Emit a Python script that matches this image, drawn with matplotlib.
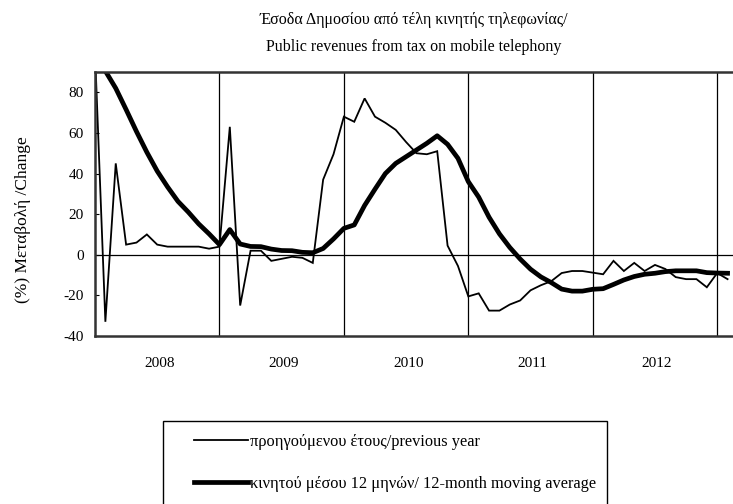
import matplotlib
matplotlib.use("Agg")
import matplotlib.pyplot as plt
from matplotlib.patches import Rectangle
from matplotlib.lines import Line2D

plt.rcParams['font.family'] = ['Liberation Serif', 'DejaVu Serif']
plt.rcParams['axes.unicode_minus'] = False

# Monthly observations, Jan 2008 .. Feb 2013
yoy = [100, -33, 45, 5, 6, 10, 5, 4, 4, 4, 4, 3,
       4, 63, -25, 2, 2, -3, -2, -1, -1.5, -4, 37, 49.5,
       68, 65.5, 77, 68, 65, 61.5, 55.5, 50, 49.5, 51, 4.5, -5.5,
       -20.5, -19, -27.5, -27.5, -24.5, -22.5, -17.5, -15, -13, -9, -8, -8,
       -8.8, -9.6, -3, -8, -4, -8, -5, -7, -11, -12, -12, -16,
       -9, -12]
ma12 = [100, 90.5, 82, 71.5, 60.7, 50.5, 41.2, 33.4, 26.3, 21, 15.2, 10.3,
        5, 12.4, 5.3, 4.1, 4, 2.8, 2.1, 2, 1.2, 1, 3.1, 7.8,
        13, 14.7, 24.3, 32.3, 40, 45, 48.3, 51.6, 54.9, 58.6, 54.4, 47.5,
        36, 28.4, 18.5, 10.3, 3.6, -2.1, -7.1, -10.9, -13.7, -16.9, -17.9, -17.9,
        -17, -16.7, -14.6, -12.4, -10.7, -9.6, -9.1, -8.3, -7.9, -7.9, -7.9, -8.8,
        -9, -9.1]
years = ['2008', '2009', '2010', '2011', '2012']
yticks = [-40, -20, 0, 20, 40, 60, 80]

title1 = 'Έσοδα Δημοσίου από τέλη κινητής τηλεφωνίας/'
title2 = 'Public revenues from tax on mobile telephony'
ylabel = '(%) Μεταβολή /Change'
lab_yoy = 'προηγούμενου έτους/previous year'
lab_ma = 'κινητού μέσου 12 μηνών/ 12-month moving average'

W, H = 733, 504
fig = plt.figure(figsize=(W / 100, H / 100), dpi=100)
ax = fig.add_axes([95 / W, 1 - 336 / H, 1 - 95 / W, (336 - 72) / H])

x = list(range(len(yoy)))
l1, = ax.plot(x, yoy, color='black', lw=1.3, solid_joinstyle='miter')
l2, = ax.plot(x, ma12, color='black', lw=3.4, solid_joinstyle='round')

ax.set_xlim(0, (W - 95) / 10.37)
ax.set_ylim(-40, 90)
ax.axhline(0, color='black', lw=0.9, zorder=1)
for k in range(1, len(years) + 1):
    ax.axvline(12 * k, color='black', lw=0.9, zorder=1)

ax.set_yticks(yticks)
ax.tick_params(axis='y', direction='in', length=3, width=0.8, labelsize=11, pad=8)
ax.set_xticks([12 * k + 6.2 for k in range(len(years))])
ax.set_xticklabels(years)
ax.tick_params(axis='x', length=0, labelsize=11, pad=15)
for s in ['left', 'top', 'bottom']:
    ax.spines[s].set_linewidth(1.8)
    ax.spines[s].set_color('#333333')
ax.spines['right'].set_visible(False)

fig.text(414 / W, 1 - 20 / H, title1, ha='center', va='center', fontsize=11.5)
fig.text(414 / W, 1 - 47 / H, title2, ha='center', va='center', fontsize=11.5)
fig.text(23 / W, 1 - 220 / H, ylabel, rotation=90, ha='center', va='center', fontsize=12.5)

fig.patches.append(Rectangle((163 / W, -0.05), (607 - 163) / W, (1 - 420.5 / H) + 0.05,
                             transform=fig.transFigure, fill=False, edgecolor='black',
                             lw=1.0, figure=fig))
h1 = Line2D([], [], color='black', lw=1.3)
h2 = Line2D([], [], color='black', lw=3.4)
fig.legend([h1, h2], [lab_yoy, lab_ma], loc='upper left',
           bbox_to_anchor=(194 / W, 1 - 434 / H), frameon=False, fontsize=11.8,
           handlelength=3.3, handletextpad=0.1, labelspacing=1.6, borderpad=0,
           borderaxespad=0)

fig.savefig('out.png', dpi=100)
